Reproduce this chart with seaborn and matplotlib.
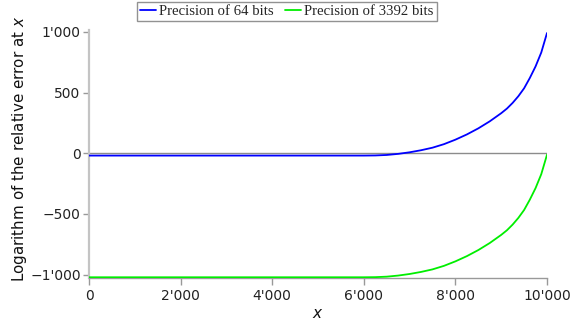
import matplotlib
matplotlib.use("Agg")
import matplotlib.pyplot as plt
from matplotlib.ticker import FuncFormatter
import numpy as np
import pandas as pd
import seaborn as sns

# Sample positions and log10 relative error for both precisions
x_values = [0, 2000, 4000, 6000, 6250, 6500, 6750, 7000, 7250, 7500, 7750,
            8000, 8250, 8500, 8750, 9000, 9125, 9250, 9375, 9500, 9625,
            9750, 9875, 10000]
err_64 = [-19, -19, -19, -19, -18, -14, -5, 8, 25, 46, 75,
          112, 155, 205, 263, 330, 368, 415, 470, 535, 620,
          715, 830, 990]
err_3392 = [-1021, -1021, -1021, -1021, -1020, -1016, -1007, -994, -977, -956, -927,
            -890, -847, -797, -739, -672, -634, -587, -532, -467, -382,
            -287, -172, -12]
series_names = ["Precision of 64 bits", "Precision of 3392 bits"]
series_colors = ["#0000ff", "#00ee00"]
x_ticks = [0, 2000, 4000, 6000, 8000, 10000]
y_ticks = [-1000, -500, 0, 500, 1000]

df = pd.concat([
    pd.DataFrame({"x": x_values, "err": err_64, "series": series_names[0]}),
    pd.DataFrame({"x": x_values, "err": err_3392, "series": series_names[1]}),
])

sns.set_theme(style="white")
plt.rcParams["font.family"] = ["DejaVu Sans"]

fig = plt.figure(figsize=(5.70, 3.24), dpi=100)
ax = fig.add_axes([89 / 570, 1 - 278 / 324, (547 - 89) / 570, (278 - 30) / 324])

ax.plot([0, 10000], [0, 0], color="#8c8c8c", lw=1.0, zorder=1)
sns.lineplot(data=df, x="x", y="err", hue="series", palette=series_colors,
             hue_order=series_names, lw=1.3, ax=ax, legend=True, zorder=3)

ax.set_xlim(0, 10000)
ax.set_ylim(-1027, 1015)
ax.set_xticks(x_ticks)
ax.set_yticks(y_ticks)


def apostrophe_fmt(v, pos):
    s = f"{abs(int(round(v))):,}".replace(",", "'")
    return ("\u2212" + s) if v < 0 else s


ax.xaxis.set_major_formatter(FuncFormatter(apostrophe_fmt))
ax.yaxis.set_major_formatter(FuncFormatter(apostrophe_fmt))

for side in ["top", "right"]:
    ax.spines[side].set_visible(False)
ax.spines["left"].set_color("#c4c4c4")
ax.spines["left"].set_linewidth(1.6)
ax.spines["bottom"].set_color("#999999")
ax.spines["bottom"].set_linewidth(1.0)

ax.tick_params(axis="x", direction="out", length=5, width=1, color="#999999",
               labelsize=10, labelcolor="#222222", pad=3, bottom=True)
ax.tick_params(axis="y", direction="out", length=4, width=1, color="#999999",
               labelsize=10, labelcolor="#222222", pad=2, left=True)

ax.set_xlabel(r"$x$", fontsize=11, labelpad=2, color="#111111")
ax.set_ylabel(r"Logarithm of the relative error at $x$", fontsize=10.9,
              color="#111111")
ax.yaxis.set_label_coords(-0.132, 0.52)

handles, labels = ax.get_legend_handles_labels()
ax.get_legend().remove()
leg = fig.legend(handles, labels, loc="upper center", bbox_to_anchor=(0.503, 1.0),
                 ncol=2, frameon=True, fancybox=False, handlelength=1.1,
                 handletextpad=0.2, columnspacing=0.8, borderpad=0.2,
                 borderaxespad=0.15,
                 prop={"family": "Liberation Serif", "size": 10.6})
leg.get_frame().set_edgecolor("#777777")
leg.get_frame().set_linewidth(1.0)

fig.savefig("out.png", dpi=100)
